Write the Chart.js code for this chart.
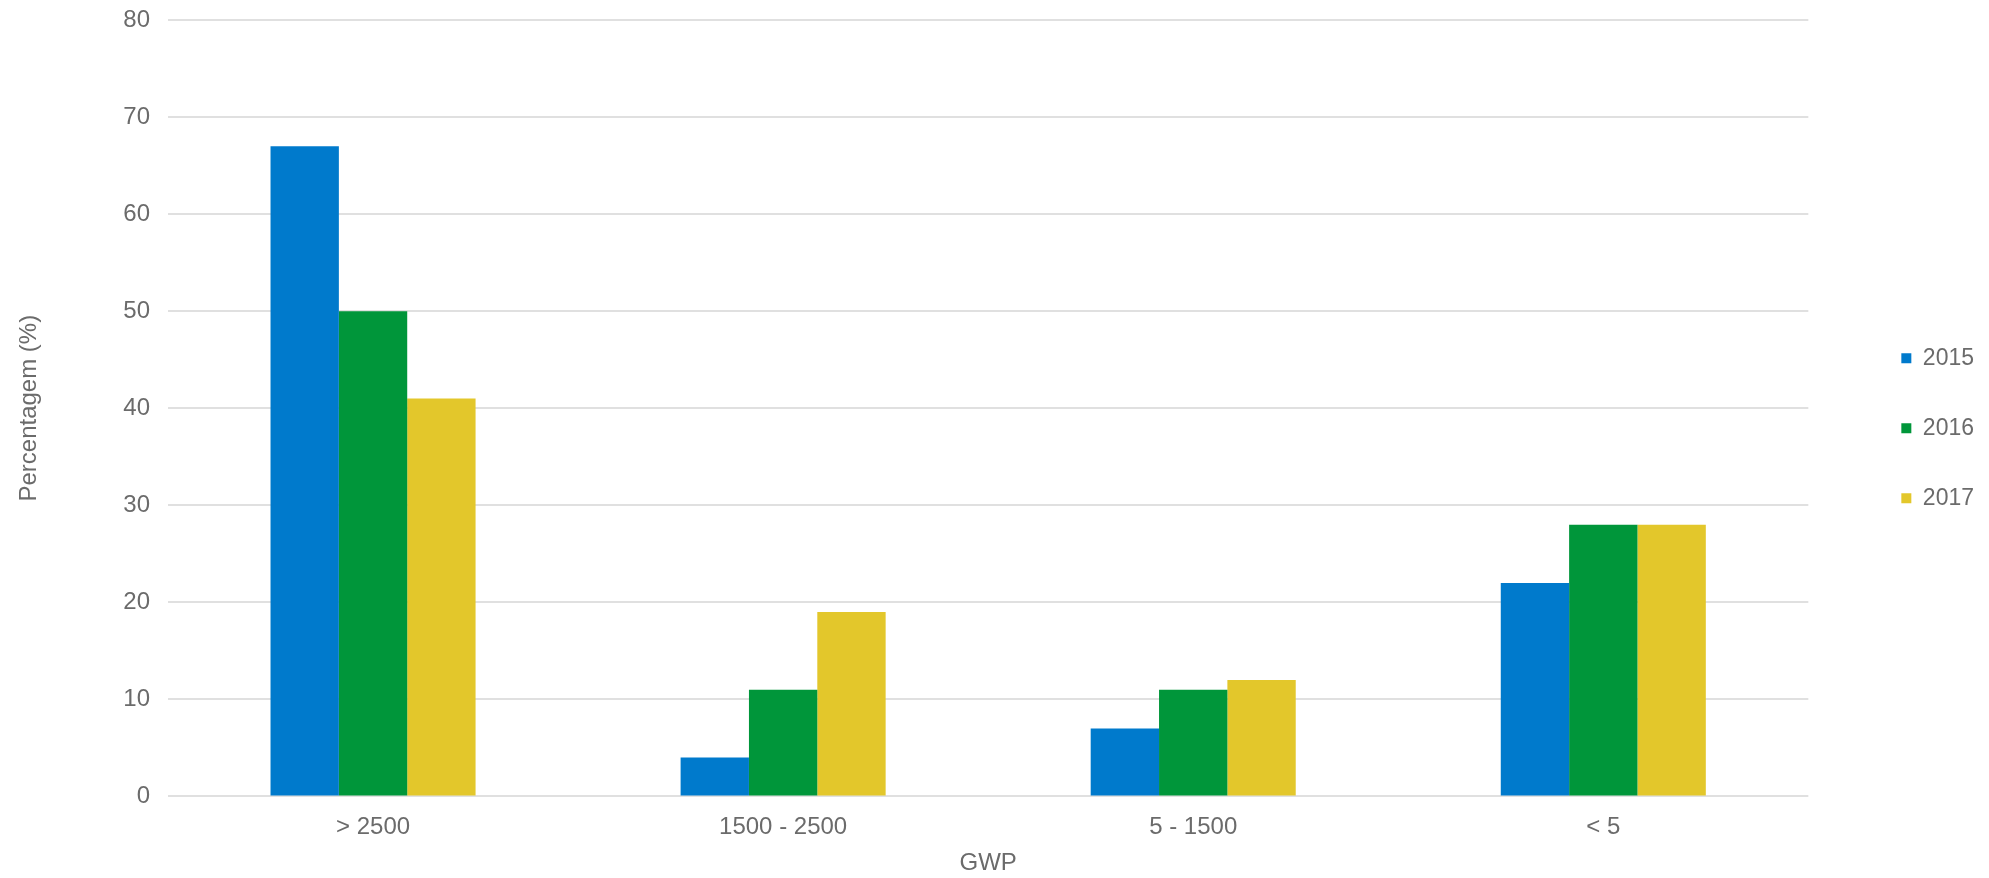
<!DOCTYPE html>
<html>
<head>
<meta charset="utf-8">
<script src="https://cdn.jsdelivr.net/npm/chart.js@4"></script>
<style>
  html, body { margin: 0; padding: 0; background: #ffffff; }
  #wrap { width: 1989px; height: 878px; position: relative; }
</style>
</head>
<body>
<div id="wrap"><canvas id="c"></canvas></div>
<script>
const categories = ['> 2500', '1500 - 2500', '5 - 1500', '< 5'];
const seriesNames = ['2015', '2016', '2017'];
const values2015 = [67, 4, 7, 22];
const values2016 = [50, 11, 11, 28];
const values2017 = [41, 19, 12, 28];
const yTicks = [0, 10, 20, 30, 40, 50, 60, 70, 80];
const yAxisTitle = 'Percentagem (%)';
const xAxisTitle = 'GWP';

const colors = ['#007ACC', '#00963A', '#E3C72B'];
const textColor = '#6b6b6b';
const fontFamily = "'Liberation Sans', 'Helvetica Neue', Helvetica, Arial, sans-serif";

Chart.defaults.font.family = fontFamily;
Chart.defaults.color = textColor;

new Chart(document.getElementById('c'), {
  type: 'bar',
  data: {
    labels: categories,
    datasets: [
      { label: seriesNames[0], data: values2015, backgroundColor: colors[0] },
      { label: seriesNames[1], data: values2016, backgroundColor: colors[1] },
      { label: seriesNames[2], data: values2017, backgroundColor: colors[2] }
    ]
  },
  options: {
    responsive: true,
    maintainAspectRatio: false,
    devicePixelRatio: 1,
    animation: false,
    layout: { padding: { top: 20, right: 5, bottom: 0, left: 0 } },
    datasets: { bar: { categoryPercentage: 0.5, barPercentage: 1.0, borderWidth: 0 } },
    scales: {
      x: {
        grid: { display: true, drawOnChartArea: false, drawTicks: true, tickLength: 17, tickColor: 'rgba(0,0,0,0)' },
        border: { display: false },
        ticks: { padding: 0, font: { size: 24 }, color: textColor },
        title: { display: true, text: xAxisTitle, font: { size: 24 }, color: textColor, padding: { top: 7, bottom: 0 } }
      },
      y: {
        min: 0,
        max: 80,
        afterBuildTicks: (scale) => { scale.ticks = yTicks.map(v => ({ value: v })); },
        grid: { color: '#e0e0e0', lineWidth: 2, drawTicks: true, tickLength: 15, tickColor: 'rgba(0,0,0,0)' },
        border: { display: false },
        ticks: { padding: 3, font: { size: 24 }, color: textColor },
        title: { display: true, text: yAxisTitle, font: { size: 24 }, color: textColor, padding: { top: 15, bottom: 0 } },
        afterFit: (scale) => { scale.width = 168; }
      },
      y2: {
        type: 'linear',
        position: 'right',
        display: true,
        grid: { display: false, drawTicks: false },
        border: { display: false },
        ticks: { display: false },
        afterFit: (scale) => { scale.width = 46; }
      }
    },
    plugins: {
      legend: {
        position: 'right',
        fullSize: false,
        align: 'center',
        title: { display: true, text: ' ', font: { size: 10 }, padding: { top: 14, bottom: 14 } },
        labels: {
          boxWidth: 10,
          boxHeight: 10,
          padding: 47,
          font: { size: 23 },
          color: textColor
        }
      },
      tooltip: { enabled: false }
    }
  }
});
</script>
</body>
</html>
